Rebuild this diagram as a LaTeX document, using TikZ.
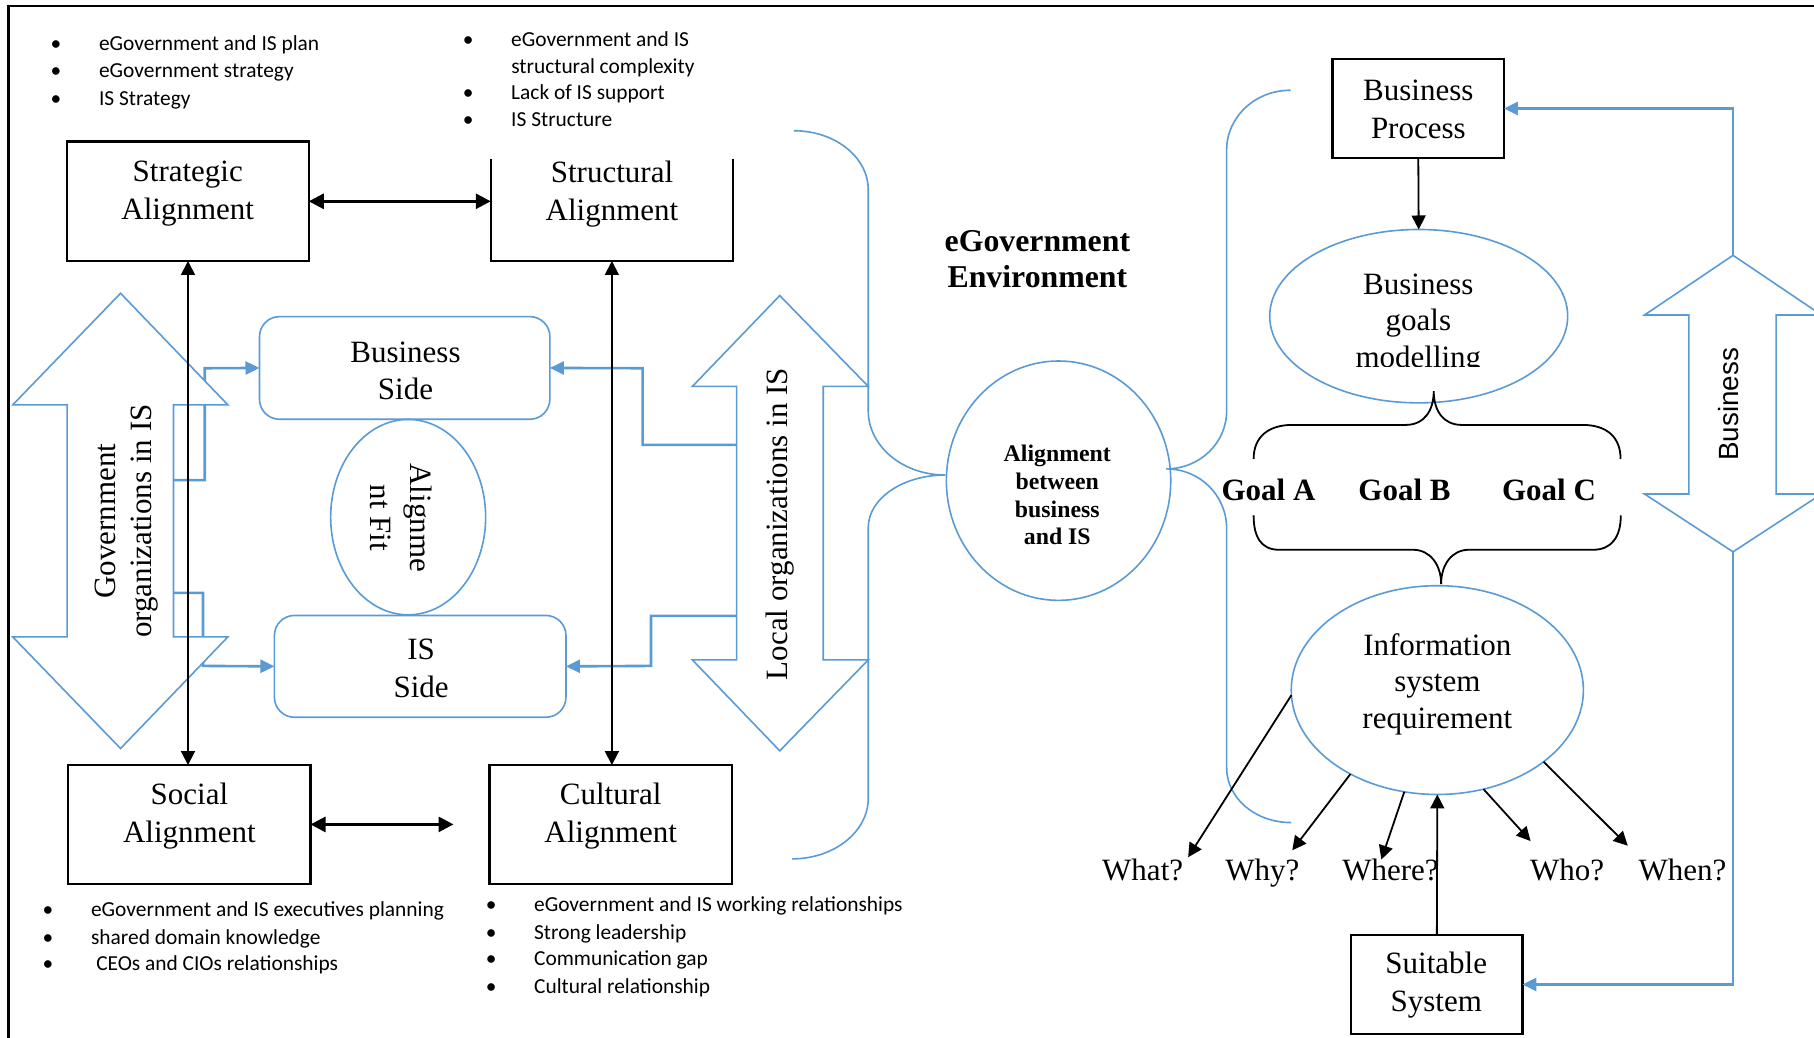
\documentclass[tikz,border=0pt]{standalone}
\usepackage{fontspec}
\setmainfont{Liberation Serif}
\newfontfamily\calfont{Carlito}
\newfontfamily\arialfont{Liberation Sans}
\usetikzlibrary{arrows.meta,shapes.geometric,fit}
\definecolor{myblue}{RGB}{91,155,213}
\newcommand\bitem[1]{\makebox[0pt]{\textbullet}\hspace{21.5pt}#1}
\begin{document}
\begin{tikzpicture}[x=0.5785pt,y=-0.5785pt,
  box/.style={draw=black,line width=1.2pt,inner sep=0pt,outer sep=0pt},
  nobox/.style={inner sep=0pt,outer sep=0pt},
  rbox/.style={draw=myblue,line width=0.8pt,rounded corners=10pt,inner sep=0pt,outer sep=0pt},
  bell/.style={ellipse,draw=myblue,line width=0.8pt,inner sep=0pt,outer sep=0pt},
  bshape/.style={draw=myblue,line width=0.8pt,fill=white,line join=miter},
  bcurve/.style={draw=myblue,line width=0.8pt},
  bconn/.style={draw=myblue,line width=1.3pt,-{Triangle[length=7pt,width=6.5pt]}},
  karrow/.style={draw=black,line width=0.9pt,-{Triangle[length=7pt,width=7pt]}},
  kvarrow/.style={draw=black,line width=0.9pt,{Triangle[length=7pt,width=7pt]}-{Triangle[length=7pt,width=7pt]}},
  kdarrow/.style={draw=black,line width=1.4pt,{Triangle[length=7.5pt,width=7.5pt]}-{Triangle[length=7.5pt,width=7.5pt]}},
  kbrace/.style={draw=black,line width=0.9pt},
  lbl/.style={inner sep=0pt,align=center,font=\fontsize{15.5}{19}\selectfont},
  bul/.style={inner sep=0pt,anchor=base west,font=\calfont\fontsize{10.7}{13.5}\selectfont},
]
\clip (0,0) rectangle (1568,897);
\fill[white] (0,0) rectangle (1568,897);
% frame
\draw[line width=1.2pt] (7.4,897) -- (7.4,5.2) -- (1568,5.2);

% ---------- nodes (boxes, ellipses)
\node[box,fit={(58.1,122.4) (266.9,225.6)}] (strat) {};
\node[nobox,fit={(424.2,122.4) (633.6,225.6)}] (struct) {};
\node[box,fit={(59,661.3) (268.4,764)}] (social) {};
\node[box,fit={(423.2,661.3) (632.6,764)}] (cultural) {};
\node[box,fit={(1151.9,50.9) (1300,136.7)}] (bproc) {};
\node[box,fit={(1168,808) (1316,894)}] (suit) {};
\node[rbox,fit={(224.3,273.7) (475.3,362.4)}] (bside) {};
\node[rbox,fit={(237.2,532) (489.2,620)}] (iside) {};
\node[bell,minimum width=77.5pt,minimum height=97.7pt] (afit) at (352.8,447) {};
\node[bell,minimum width=112.2pt,minimum height=119.7pt] (align) at (915,415.5) {};
\node[bell,minimum width=149pt,minimum height=86.7pt] (goals) at (1226.3,273.3) {};
\node[bell,minimum width=146.1pt,minimum height=104.4pt] (isreq) at (1242.4,596.5) {};

% structural box without its top edge
\draw[line width=1.2pt] ([yshift=-8.85pt]struct.north west) -- (struct.south west) -- (struct.south east) -- ([yshift=-8.85pt]struct.north east);

% ---------- coordinates for connector ends
\coordinate (g1) at (150,415);
\coordinate (g2) at (150,512.5);
\coordinate (l1) at (636.7,384.6);
\coordinate (l2) at (636.7,532.4);
\coordinate (bz1) at (1498,220.7);
\coordinate (bz2) at (1498,477);
\coordinate (scEnd) at (392,712.6);
\coordinate (tWhat) at (1027,741);
\coordinate (tWhy) at (1117,735);
\coordinate (tWhere) at (1194,743);
\coordinate (tWho) at (1323,727);
\coordinate (tWhen) at (1407,731);

% ---------- blue connectors (behind the big arrows)
\draw[bconn] (g1) -| (177,318.3) -- (bside.west);
\draw[bconn] (g2) -| (175.5,575.6) -- (iside.west);
\draw[bconn] (l1) -| (555.5,318.3) -- (bside.east);
\draw[bconn] (l2) -| (562.7,575.6) -- (iside.east);
\draw[bconn] (bz1) |- (bproc.east);
\draw[bconn] (bz2) |- (suit.east);

% ---------- big block arrows
\draw[bshape] (104.2,253.5) -- (197,350) -- (150,350) -- (150,550.5) -- (197,550.5) -- (104.2,647) -- (11,550.5) -- (58,550.5) -- (58,350) -- (11,350) -- cycle;
\draw[bshape] (674,255.5) -- (750.5,334) -- (711.6,334) -- (711.6,570.4) -- (750.5,570.4) -- (674,649) -- (598.5,570.4) -- (636.7,570.4) -- (636.7,334) -- (598.5,334) -- cycle;
\draw[bshape] (1498,220.7) -- (1574.5,272.3) -- (1535.2,272.3) -- (1535.2,427) -- (1574.5,427) -- (1498,477) -- (1421.5,427) -- (1459.8,427) -- (1459.8,272.3) -- (1421.5,272.3) -- cycle;

% ---------- blue braces
\draw[bcurve] (686.2,113) .. controls (721.7,113) and (750.5,135.8) .. (750.5,164) -- (750.5,355)
  .. controls (750.5,385.7) and (780.3,410.6) .. (817,410.6)
  .. controls (780.3,410.6) and (750.5,431) .. (750.5,456) -- (750.5,690)
  .. controls (750.5,719) and (721,742.4) .. (684.7,742.4);
\draw[bcurve] (1115.5,78) .. controls (1085,78) and (1060.3,101) .. (1060.3,129.6) -- (1060.3,355)
  .. controls (1060.3,383) and (1037,405.3) .. (1008,405.3)
  .. controls (1037,405.3) and (1060.3,428) .. (1060.3,457) -- (1060.3,663.5)
  .. controls (1060.3,690) and (1085,711) .. (1116,711);

% ---------- black braces around the goals
\draw[kbrace] (1083.6,396.7) .. controls (1083.6,378) and (1096,367.3) .. (1117,367.3) -- (1215,367.3)
  .. controls (1231,367.3) and (1239.3,355) .. (1239.3,338)
  .. controls (1239.3,355) and (1247.5,367.3) .. (1263.5,367.3) -- (1368,367.3)
  .. controls (1389,367.3) and (1400.8,378) .. (1400.8,396.7);
\draw[kbrace] (1083.6,445.5) .. controls (1083.6,464) and (1090,475.2) .. (1105.5,475.2) -- (1221.4,475.2)
  .. controls (1236,475.2) and (1245.7,488) .. (1245.7,504.8)
  .. controls (1245.7,488) and (1255,475.2) .. (1269.7,475.2) -- (1377.2,475.2)
  .. controls (1393,475.2) and (1401,464) .. (1401,445.5);

% ---------- black arrows
\draw[kdarrow] (strat.east) -- (struct.west);
\draw[kdarrow] (social.east) -- (scEnd);
\draw[kvarrow] (strat.south) -- (strat.south |- social.north);
\draw[kvarrow] (struct.south) -- (struct.south |- cultural.north);
\draw[karrow] (bproc.south) -- (goals.north);
\draw[karrow] (suit.north) -- (isreq.south);
\draw[karrow] (isreq.182) -- (tWhat);
\draw[karrow] (isreq.224) -- (tWhy);
\draw[karrow] (isreq.252) -- (tWhere);
\draw[karrow] (isreq.295) -- (tWho);
\draw[karrow] (isreq.326) -- (tWhen);

% ---------- labels
\node[lbl] (stratT) at (162.3,167.5) {Strategic\\Alignment};
\node[lbl] (structT) at (529,167.5) {Structural\\Alignment};
\node[lbl] (socialT) at (163.7,705.5) {Social\\Alignment};
\node[lbl] (cultT) at (527.9,705.5) {Cultural\\Alignment};
\node[lbl,font=\fontsize{15.5}{18.5}\selectfont] (bsideT) at (350.5,320.5) {Business\\Side};
\node[lbl,font=\fontsize{15.5}{18.8}\selectfont] (isideT) at (364,578) {IS\\Side};
\node[lbl,rotate=-90,font=\fontsize{15.5}{20}\selectfont] (afitT) at (347,447.6) {Alignme\\nt Fit};
\node[lbl,rotate=90,font=\fontsize{15.5}{18}\selectfont] (govT) at (109.5,450.5) {Government\\organizations in IS};
\node[lbl,rotate=90] (localT) at (674,453) {Local organizations in IS};
\node[inner sep=0pt,rotate=90,font=\arialfont\fontsize{13.9}{16}\selectfont] (bizT) at (1494,349.5) {Business};
\node[lbl,font=\fontsize{15.9}{18.4}\selectfont\bfseries] (envT) at (896.7,224) {eGovernment\\Environment};
\node[lbl,font=\fontsize{11.9}{13.9}\selectfont\bfseries] (alignT) at (913.9,428) {Alignment\\between\\business\\and IS};
\node[lbl] (bprocT) at (1226,94.5) {Business\\Process};
\begin{scope}
\clip (1090,200) rectangle (1360,317);
\node[lbl,font=\fontsize{15.5}{18.3}\selectfont] (goalsT) at (1226,280) {Business\\goals\\modelling};
\end{scope}
\node[lbl,font=\fontsize{15.5}{18.2}\selectfont] (isreqT) at (1242.4,591.5) {Information\\system\\requirement};
\node[lbl] (suitT) at (1241.5,851.5) {Suitable\\System};
\node[lbl,anchor=base,font=\fontsize{15.5}{19}\selectfont\bfseries] (goalA) at (1096.5,432.5) {Goal A};
\node[lbl,anchor=base,font=\fontsize{15.5}{19}\selectfont\bfseries] (goalB) at (1214,432.5) {Goal B};
\node[lbl,anchor=base,font=\fontsize{15.5}{19}\selectfont\bfseries] (goalC) at (1338.9,432.5) {Goal C};
\node[lbl,anchor=base] (qWhat) at (987.7,761.5) {What?};
\node[lbl,anchor=base] (qWhy) at (1091.2,761.5) {Why?};
\node[lbl,anchor=base] (qWhere) at (1201.9,761.5) {Where?};
\node[lbl,anchor=base] (qWho) at (1354.6,761.5) {Who?};
\node[lbl,anchor=base] (qWhen) at (1454.4,761.5) {When?};

% ---------- bullet lists
\node[bul] (tl1) at (48.1,43.4) {\bitem{eGovernment and IS plan}};
\node[bul] (tl2) at (48.1,67) {\bitem{eGovernment strategy}};
\node[bul] (tl3) at (48.1,91.5) {\bitem{IS Strategy}};
\node[bul] (tr1) at (404.4,40.2) {\bitem{eGovernment and IS}};
\node[bul] (tr2) at (441.6,63.3) {structural complexity};
\node[bul] (tr3) at (404.4,85.7) {\bitem{Lack of IS support}};
\node[bul] (tr4) at (404.4,109.6) {\bitem{IS Structure}};
\node[bul] (bl1) at (41.2,792.5) {\bitem{eGovernment and IS executives planning}};
\node[bul] (bl2) at (41.2,816.5) {\bitem{shared domain knowledge}};
\node[bul] (bl3) at (41.2,839.3) {\makebox[0pt]{\textbullet}\hspace{24.1pt}CEOs and CIOs relationships};
\node[bul] (br1) at (424.2,788.3) {\bitem{eGovernment and IS working relationships}};
\node[bul] (br2) at (424.2,811.8) {\bitem{Strong leadership}};
\node[bul] (br3) at (424.2,834.7) {\bitem{Communication gap}};
\node[bul] (br4) at (424.2,858.5) {\bitem{Cultural relationship}};
\end{tikzpicture}
\end{document}
